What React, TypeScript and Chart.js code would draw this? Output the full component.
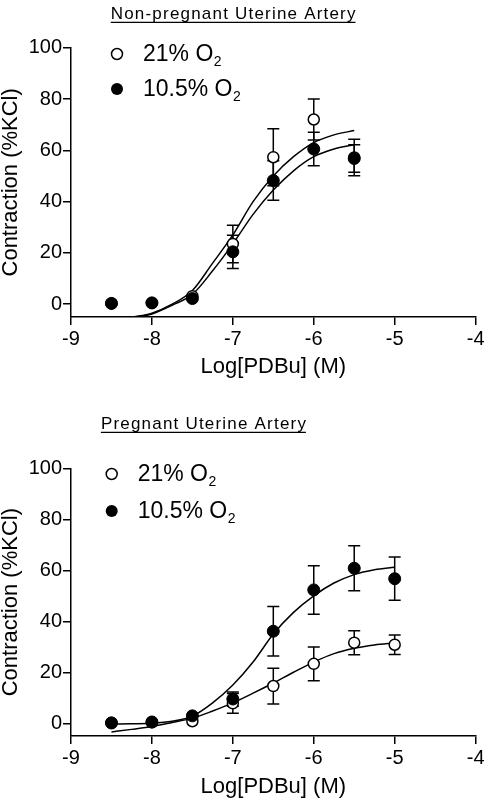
import React, { useEffect, useRef } from "react";
import { Chart, registerables } from "chart.js";

Chart.register(...registerables);

const FONT = "'Liberation Sans', Arial, Helvetica, sans-serif";

// ---- shared axis content ----
const xTicks = [-9, -8, -7, -6, -5, -4];
const yTicks = [0, 20, 40, 60, 80, 100];
const xLabel = "Log[PDBu] (M)";
const yLabel = "Contraction (%KCl)";
const seriesNames = ["21% O", "10.5% O"];
const seriesSub = "2";

// ---- Panel A: non-pregnant ----
const npTitle = "Non-pregnant Uterine Artery";
const npDoses = [-8.5, -8, -7.5, -7, -6.5, -6, -5.5];
const np21 = [0.3, 0.5, 3.1, 23.5, 57.3, 72, 57.2];
const np21Err = [0, 0, 0, 7.3, 11.1, 8, 7.1];
const np105 = [0.3, 0.5, 2.2, 20.4, 48.2, 60.5, 56.8];
const np105Err = [0, 0, 0, 6.5, 7.7, 6.5, 5.4];
const npFitX = [-8.25, -8, -7.75, -7.5, -7.25, -7, -6.75, -6.5, -6.25, -6, -5.75, -5.5];
const npFit21 = [-5.1, -3.5, 0, 5.3, 16, 27, 40, 50, 57.5, 63, 66, 67.7];
const npFit105 = [-5.3, -3.8, -0.4, 3.8, 13, 23.5, 35, 44.5, 52, 57.5, 60.5, 62.2];

// ---- Panel B: pregnant ----
const pTitle = "Pregnant Uterine Artery";
const pDoses = [-8.5, -8, -7.5, -7, -6.5, -6, -5.5, -5];
const p21 = [0.2, 0.4, 0.8, 7.8, 14.6, 23.3, 31.6, 30.8];
const p21Err = [0, 0, 0, 3.9, 7, 6.6, 4.7, 3.8];
const p105 = [0.1, 0.5, 2.9, 9.5, 36.1, 52.3, 60.8, 56.7];
const p105Err = [0, 0, 0, 2.8, 9.7, 9.5, 8.8, 8.5];
const pFitX = [-8.5, -8.25, -8, -7.75, -7.5, -7.25, -7, -6.75, -6.5, -6.25, -6, -5.75, -5.5, -5.25, -5];
const pFit21 = [-3.4, -2.4, -1.3, 0.3, 2, 4.8, 8, 11.8, 15.8, 20, 24, 27.3, 29.4, 30.7, 31.5];
const pFit105 = [-0.3, -0.2, 0, 0.8, 2.8, 8, 15, 24, 35, 43.5, 50, 55, 58.3, 60.2, 61.2];

const W = 487;
const AREA_L = 71;
const AREA_R = 476;

type PanelProps = {
  top: number;
  height: number;
  title: string;
  titleCx: number;
  titleBase: number;
  areaTop: number;
  areaBottom: number;
  xTitleY: number;
  legendMarkerX: number;
  legendTextX: number;
  legendRows: number[];
  doses: number[];
  s21: number[];
  e21: number[];
  s105: number[];
  e105: number[];
  fitX: number[];
  fit21: number[];
  fit105: number[];
};

function Panel(p: PanelProps) {
  const ref = useRef<HTMLCanvasElement | null>(null);

  useEffect(() => {
    const canvas = ref.current;
    if (!canvas) return;

    const panelPlugin = {
      id: "panelExtras",
      beforeDatasetsDraw(chart: any) {
        const ctx = chart.ctx;
        const xs = chart.scales.x;
        const ys = chart.scales.y;
        ctx.save();
        ctx.strokeStyle = "#000";
        ctx.lineWidth = 1.5;
        const cap = 6;
        const drawBars = (vals: number[], errs: number[]) => {
          p.doses.forEach((d, i) => {
            const e = errs[i];
            if (!e) return;
            const x = xs.getPixelForValue(d);
            const y1 = ys.getPixelForValue(vals[i] + e);
            const y2 = ys.getPixelForValue(vals[i] - e);
            ctx.beginPath();
            ctx.moveTo(x, y1);
            ctx.lineTo(x, y2);
            ctx.moveTo(x - cap, y1);
            ctx.lineTo(x + cap, y1);
            ctx.moveTo(x - cap, y2);
            ctx.lineTo(x + cap, y2);
            ctx.stroke();
          });
        };
        drawBars(p.s21, p.e21);
        drawBars(p.s105, p.e105);
        ctx.restore();
      },
      afterDraw(chart: any) {
        const ctx = chart.ctx;
        ctx.save();
        // title, underlined
        ctx.fillStyle = "#000";
        ctx.strokeStyle = "#000";
        ctx.font = `17px ${FONT}`;
        try {
          (ctx as any).letterSpacing = "1.2px";
        } catch (e) {}
        ctx.textAlign = "left";
        ctx.textBaseline = "alphabetic";
        const tw = ctx.measureText(p.title).width;
        const tx = p.titleCx - tw / 2;
        ctx.fillText(p.title, tx, p.titleBase);
        ctx.lineWidth = 1.3;
        ctx.beginPath();
        ctx.moveTo(tx, p.titleBase + 3);
        ctx.lineTo(tx + tw - 1.2, p.titleBase + 3);
        ctx.stroke();
        try {
          (ctx as any).letterSpacing = "0px";
        } catch (e) {}

        // legend
        const rows = p.legendRows;
        // open marker (21%)
        ctx.lineWidth = 1.5;
        ctx.beginPath();
        ctx.arc(p.legendMarkerX, rows[0], 5.5, 0, Math.PI * 2);
        ctx.fillStyle = "#fff";
        ctx.fill();
        ctx.stroke();
        // filled marker (10.5%)
        ctx.beginPath();
        ctx.arc(p.legendMarkerX, rows[1], 6, 0, Math.PI * 2);
        ctx.fillStyle = "#000";
        ctx.fill();

        ctx.fillStyle = "#000";
        seriesNames.forEach((name, i) => {
          const base = rows[i] + 6.5;
          ctx.font = `23px ${FONT}`;
          ctx.fillText(name, p.legendTextX, base);
          const w = ctx.measureText(name).width;
          ctx.font = `14px ${FONT}`;
          ctx.fillText(seriesSub, p.legendTextX + w + 0.5, base + 5.5);
        });
        ctx.restore();
      },
    };

    const chart = new Chart(canvas, {
      type: "scatter",
      data: {
        datasets: [
          {
            label: seriesNames[1] + seriesSub,
            data: p.doses.map((x, i) => ({ x, y: p.s105[i] })),
            pointRadius: 6,
            pointBackgroundColor: "#000",
            pointBorderColor: "#000",
            pointBorderWidth: 1,
            showLine: false,
            order: 0,
          },
          {
            label: seriesNames[0] + seriesSub,
            data: p.doses.map((x, i) => ({ x, y: p.s21[i] })),
            pointRadius: 5.5,
            pointBackgroundColor: "#fff",
            pointBorderColor: "#000",
            pointBorderWidth: 1.5,
            showLine: false,
            order: 1,
          },
          {
            label: "fit 21",
            data: p.fitX.map((x, i) => ({ x, y: p.fit21[i] })),
            showLine: true,
            pointRadius: 0,
            borderColor: "#000",
            borderWidth: 1.5,
            cubicInterpolationMode: "monotone",
            order: 2,
          },
          {
            label: "fit 10.5",
            data: p.fitX.map((x, i) => ({ x, y: p.fit105[i] })),
            showLine: true,
            pointRadius: 0,
            borderColor: "#000",
            borderWidth: 1.5,
            cubicInterpolationMode: "monotone",
            order: 3,
          },
        ],
      },
      options: {
        responsive: false,
        animation: false,
        devicePixelRatio: 1,
        events: [],
        layout: {
          padding: { left: 0, right: W - AREA_R, top: p.areaTop, bottom: 0 },
        },
        plugins: {
          legend: { display: false },
          tooltip: { enabled: false },
          title: { display: false },
        },
        scales: {
          x: {
            type: "linear",
            min: -9,
            max: -4,
            afterBuildTicks: (s: any) => {
              s.ticks = xTicks.map((v) => ({ value: v }));
            },
            afterFit: (s: any) => {
              s.height = p.height - p.areaBottom;
            },
            grid: {
              drawOnChartArea: false,
              drawTicks: true,
              tickLength: 8,
              color: "#000",
              lineWidth: 1.5,
            },
            border: { display: true, color: "#000", width: 1.5 },
            ticks: {
              color: "#000",
              font: { family: FONT, size: 20 },
              padding: 2.5,
              maxRotation: 0,
              autoSkip: false,
            },
            title: {
              display: true,
              text: xLabel,
              color: "#000",
              font: { family: FONT, size: 22, lineHeight: 1.2 },
              padding: { top: 0, bottom: p.height - p.xTitleY - 13.2 },
            },
          },
          y: {
            type: "linear",
            min: -5,
            max: 100,
            afterBuildTicks: (s: any) => {
              s.ticks = yTicks.map((v) => ({ value: v }));
            },
            afterFit: (s: any) => {
              s.width = AREA_L;
            },
            grid: {
              drawOnChartArea: false,
              drawTicks: true,
              tickLength: 8,
              color: "#000",
              lineWidth: 1.5,
            },
            border: { display: true, color: "#000", width: 1.5 },
            ticks: {
              color: "#000",
              font: { family: FONT, size: 20 },
              padding: 1,
            },
            title: {
              display: true,
              text: yLabel,
              color: "#000",
              font: { family: FONT, size: 22, lineHeight: 1 },
              padding: { top: 0, bottom: 0 },
            },
          },
        },
      } as any,
      plugins: [panelPlugin],
    });

    return () => {
      chart.destroy();
    };
  }, []);

  return (
    <canvas
      ref={ref}
      width={W}
      height={p.height}
      style={{ position: "absolute", left: 0, top: p.top, display: "block" }}
    />
  );
}

export default function App() {
  return (
    <div
      style={{
        position: "fixed",
        left: 0,
        top: 0,
        width: W,
        height: 799,
        overflow: "hidden",
        background: "#fff",
      }}
    >
      <Panel
        top={0}
        height={400}
        title={npTitle}
        titleCx={233.7}
        titleBase={19.3}
        areaTop={47.7}
        areaBottom={317}
        xTitleY={366.5}
        legendMarkerX={117}
        legendTextX={143}
        legendRows={[54, 89]}
        doses={npDoses}
        s21={np21}
        e21={np21Err}
        s105={np105}
        e105={np105Err}
        fitX={npFitX}
        fit21={npFit21}
        fit105={npFit105}
      />
      <Panel
        top={400}
        height={400}
        title={pTitle}
        titleCx={204}
        titleBase={29.3}
        areaTop={68.3}
        areaBottom={336}
        xTitleY={386.5}
        legendMarkerX={111.7}
        legendTextX={137.7}
        legendRows={[74, 111]}
        doses={pDoses}
        s21={p21}
        e21={p21Err}
        s105={p105}
        e105={p105Err}
        fitX={pFitX}
        fit21={pFit21}
        fit105={pFit105}
      />
    </div>
  );
}
